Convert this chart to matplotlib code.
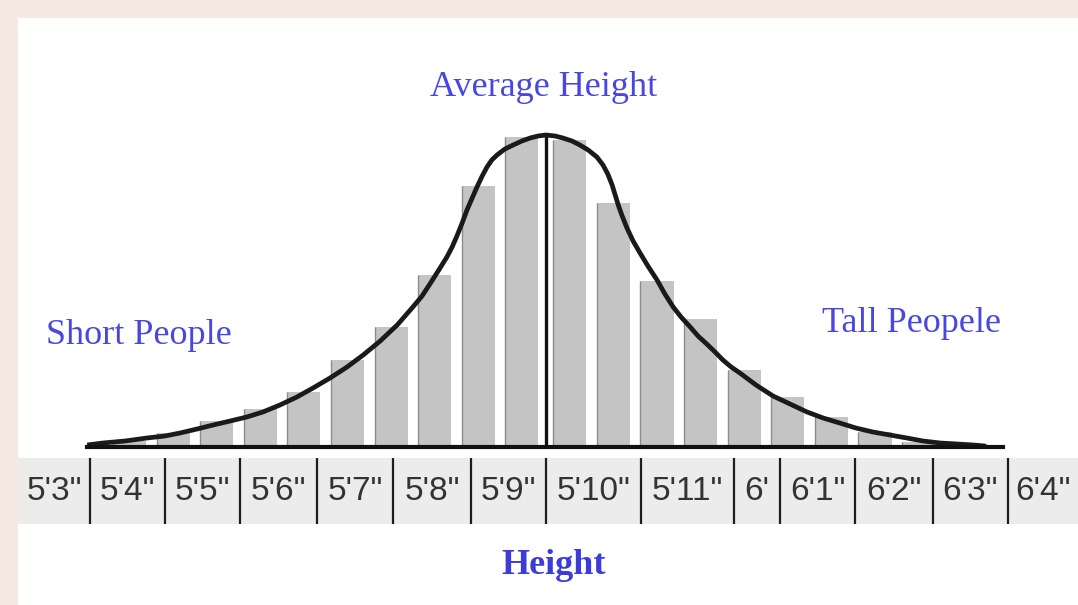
import numpy as np
import matplotlib
matplotlib.use("Agg")
import matplotlib.pyplot as plt
from matplotlib.patches import Rectangle

# Bar heights (people per height bin), left and right of the average
left_counts = [6, 14, 26, 38, 55, 87, 120, 172, 261, 310]
right_counts = [307, 244, 166, 128, 77, 50, 30, 15, 5, 2]

# Distribution curve, sampled along the bins (x in bin units)
curve_x = [-0.97, -0.61, -0.10, 0.40, 0.81, 1.16, 1.55, 1.92, 2.31, 2.69,
           3.06, 3.45, 3.84, 4.21, 4.60, 4.99, 5.36, 5.75, 6.14, 6.50,
           6.71, 6.89, 7.08, 7.28, 7.40, 7.51, 7.63, 7.74, 7.86, 7.97,
           8.09, 8.20, 8.31, 8.43, 8.61, 8.80, 9.00, 9.19, 9.37, 9.55,
           9.76, 9.94, 10.15, 10.33, 10.52, 10.72, 10.86, 10.97, 11.07, 11.14,
           11.21, 11.30, 11.41, 11.55, 11.71, 11.89, 12.10, 12.28, 12.47, 12.65,
           12.86, 13.04, 13.24, 13.43, 13.61, 13.80, 14.00, 14.37, 14.76, 15.15,
           15.54, 15.91, 16.29, 16.66, 17.05, 17.44, 17.83, 18.20, 18.59, 18.98,
           19.35, 19.62]
curve_y = [2, 4, 6, 9, 11, 14, 18, 22, 26, 30,
           35, 42, 50, 59, 69, 80, 92, 106, 122, 140,
           151, 163, 176, 190, 200, 211, 224, 237, 249, 260,
           271, 280, 287, 292, 298, 302, 306, 309, 311, 312,
           311, 309, 306, 302, 297, 290, 282, 273, 262, 252,
           242, 231, 219, 206, 194, 181, 167, 153, 140, 130,
           120, 111, 103, 95, 87, 80, 74, 62, 51, 43,
           35, 29, 24, 19, 15, 12, 9, 6, 4, 3,
           2, 1]
mean_x = 9.55
mean_y = 312

tick_labels = ["5'3\"", "5'4\"", "5'5\"", "5'6\"", "5'7\"", "5'8\"", "5'9\"",
               "5'10\"", "5'11\"", "6'", "6'1\"", "6'2\"", "6'3\"", "6'4\""]
col_widths = [72, 75, 75, 77, 76, 78, 75, 95, 93, 46, 75, 78, 75, 70]

W, H = 1078, 605
BLUE = "#4848e0"
SERIF = "Liberation Serif"
SANS = "Liberation Sans"

fig = plt.figure(figsize=(W / 100, H / 100), dpi=100, facecolor="#f6e9e3")
fig.patches.append(Rectangle((18 / W, 0), 1 - 18 / W, 1 - 18 / H,
                             transform=fig.transFigure, facecolor="white",
                             edgecolor="none", zorder=-10))

# --- bars + curve ---
ax = fig.add_axes([87 / W, (H - 447) / H, (1003 - 87) / W, (447 - 18) / H])
ax.set_facecolor("none")
pos = np.concatenate([np.arange(len(left_counts)),
                      np.arange(len(right_counts)) + len(left_counts) + 0.1])
counts = np.array(left_counts + right_counts)
bw = 0.76
ax.bar(pos, counts, width=bw, color="#c4c4c4", edgecolor="none", zorder=1)
ax.vlines(pos - bw / 2, 0, counts, color="#8c8c8c", lw=1.0, zorder=1.5)
ax.plot(curve_x, curve_y, color="#1a1a1a", lw=3.4, solid_joinstyle="round",
        solid_capstyle="round", zorder=3)
ax.vlines(mean_x, 0, mean_y, color="#111111", lw=2.4, zorder=2.5)
ax.axhline(0, color="#111111", lw=3.0, clip_on=False, zorder=4)
ax.set_xlim(-0.975, 20.035)
ax.set_ylim(0, 429)
ax.axis("off")

# --- height label row ---
tax = fig.add_axes([18 / W, (H - 524) / H, 1060 / W, 66 / H])
tax.set_facecolor("#ececec")
edges = np.concatenate([[0], np.cumsum(col_widths)])
tax.set_xlim(0, edges[-1])
tax.set_ylim(0, 1)
for e in edges[1:-1]:
    tax.axvline(e, color="#1e1e1e", lw=1.6)
for lab, a, b in zip(tick_labels, edges[:-1], edges[1:]):
    tax.text((a + b) / 2, 0.5, lab, ha="center", va="center",
             fontsize=24, family=SANS, color="#333333")
tax.set_xticks([])
tax.set_yticks([])
for s in tax.spines.values():
    s.set_visible(False)

# --- annotations ---
fig.text(544 / W, (H - 87) / H, "Average Height", ha="center", va="center",
         fontsize=26, family=SERIF, color=BLUE)
fig.text(139 / W, (H - 335) / H, "Short People", ha="center", va="center",
         fontsize=26, family=SERIF, color=BLUE)
fig.text(911 / W, (H - 323) / H, "Tall Peopele", ha="center", va="center",
         fontsize=26, family=SERIF, color=BLUE)
fig.text(554 / W, (H - 565) / H, "Height", ha="center", va="center",
         fontsize=26, family=SERIF, weight="bold", color="#3c3cd8")

fig.savefig("out.png", dpi=100, facecolor=fig.get_facecolor())
